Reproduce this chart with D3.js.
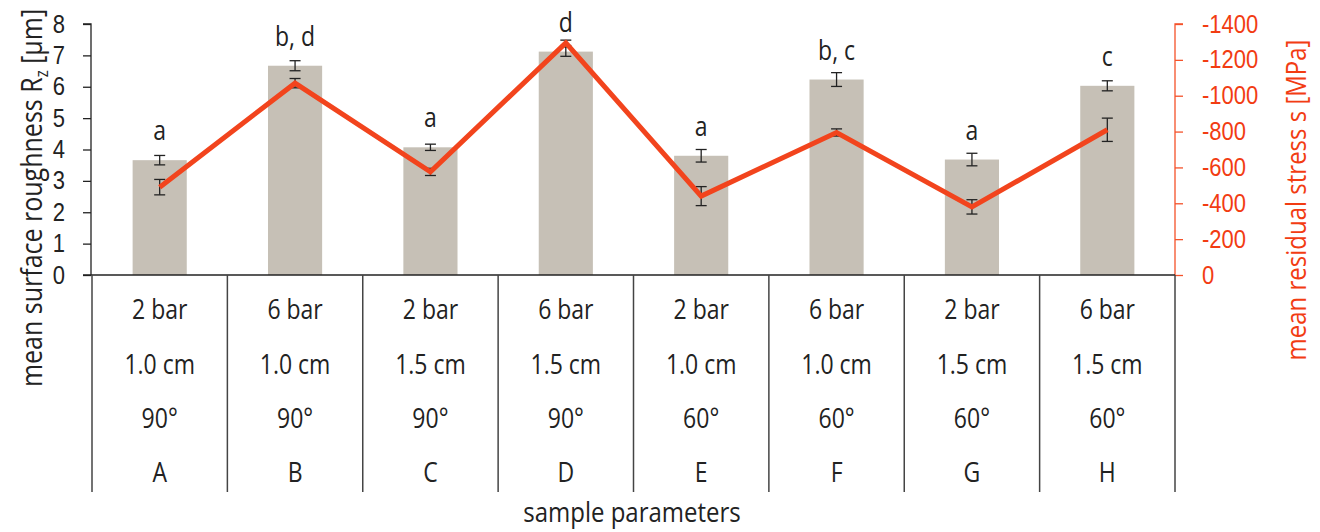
<!DOCTYPE html>
<html>
<head>
<meta charset="utf-8">
<script src="https://cdn.jsdelivr.net/npm/d3@7"></script>
<style>
  html, body { margin: 0; padding: 0; background: #fff; }
  svg { display: block; font-family: "Open Sans", sans-serif; }
</style>
</head>
<body>
<svg id="chart" width="1320" height="532"></svg>
<script>
// ---- data ----
const categories = ["A", "B", "C", "D", "E", "F", "G", "H"];
const pressure = ["2 bar", "6 bar", "2 bar", "6 bar", "2 bar", "6 bar", "2 bar", "6 bar"];
const distance = ["1.0 cm", "1.0 cm", "1.5 cm", "1.5 cm", "1.0 cm", "1.0 cm", "1.5 cm", "1.5 cm"];
const angle = ["90°", "90°", "90°", "90°", "60°", "60°", "60°", "60°"];
const roughness = [3.66, 6.67, 4.07, 7.12, 3.80, 6.23, 3.68, 6.03];
const roughnessErr = [0.15, 0.16, 0.10, 0.15, 0.20, 0.22, 0.20, 0.16];
const stress = [-490, -1070, -575, -1295, -440, -795, -380, -810];
const stressErr = [43, 26, 20, 15, 53, 20, 40, 65];
const groupLabels = ["a", "b, d", "a", "d", "a", "b, c", "a", "c"];
const leftTicks = [0, 1, 2, 3, 4, 5, 6, 7, 8];
const rightTicks = [0, -200, -400, -600, -800, -1000, -1200, -1400];

// ---- layout ----
const SY = 1.15;               // vertical stretch of glyphs (condensed look)
const plotLeft = 92, plotRight = 1175, plotTop = 24, plotBottom = 275;
const tableBottom = 492;
const rowBaselines = [319, 374, 428, 482];
const barColor = "#c6c0b6";
const lineColor = "#f2441d";
const axisRed = "#f4522a";
const ink = "#222";

const svg = d3.select("#chart");

const x = d3.scaleBand().domain(categories).range([plotLeft, plotRight]).padding(0);
const y = d3.scaleLinear().domain([0, 8]).range([plotBottom, plotTop]);
const y2 = d3.scaleLinear().domain([0, -1400]).range([plotBottom, plotTop]);
const barW = x.bandwidth() * 0.4;
const cx = d => x(d) + x.bandwidth() / 2;

function stretchedText(sel, tx, ty, str, size, anchor, color, rotate) {
  return sel.append("text")
    .attr("transform", `translate(${tx},${ty})` + (rotate ? ` rotate(${rotate})` : "") + ` scale(1,${SY})`)
    .attr("text-anchor", anchor)
    .attr("font-size", size)
    .attr("fill", color)
    .text(str);
}

// ---- bars ----
svg.append("g").selectAll("rect").data(categories).join("rect")
  .attr("x", (d) => cx(d) - barW / 2)
  .attr("y", (d, i) => y(roughness[i]))
  .attr("width", barW)
  .attr("height", (d, i) => y(0) - y(roughness[i]))
  .attr("fill", barColor);

// ---- error bars ----
function errorBars(vals, errs, scale) {
  const g = svg.append("g").attr("stroke", ink).attr("stroke-width", 1.3).attr("fill", "none");
  categories.forEach((c, i) => {
    const xc = cx(c);
    const y1 = scale(vals[i] + errs[i] * Math.sign(vals[i] || 1));
    const y0 = scale(vals[i] - errs[i] * Math.sign(vals[i] || 1));
    g.append("line").attr("x1", xc).attr("x2", xc).attr("y1", y0).attr("y2", y1);
    g.append("line").attr("x1", xc - 5.5).attr("x2", xc + 5.5).attr("y1", y0).attr("y2", y0);
    g.append("line").attr("x1", xc - 5.5).attr("x2", xc + 5.5).attr("y1", y1).attr("y2", y1);
  });
}
errorBars(roughness, roughnessErr, y);
errorBars(stress, stressErr, y2);

// ---- stress line ----
svg.append("path")
  .datum(categories)
  .attr("fill", "none")
  .attr("stroke", lineColor)
  .attr("stroke-width", 5)
  .attr("stroke-linejoin", "miter")
  .attr("d", d3.line().x(d => cx(d)).y((d, i) => y2(stress[i])));

// ---- group letters ----
const lg = svg.append("g");
categories.forEach((c, i) => {
  stretchedText(lg, cx(c), y(roughness[i]) - 20, groupLabels[i], 23, "middle", ink);
});

// ---- left axis ----
const leftAxis = svg.append("g").attr("transform", `translate(${plotLeft - 1},0)`)
  .call(d3.axisLeft(y).tickValues(leftTicks).tickSize(8).tickFormat(d3.format("d")));
leftAxis.select(".domain").attr("stroke", ink).attr("stroke-width", 1.3).attr("d", `M-8,${plotTop}H0V${plotBottom}`);
leftAxis.selectAll(".tick line").attr("stroke", ink).attr("stroke-width", 1.3);
leftAxis.selectAll(".tick text").remove();
leftTicks.forEach(t => {
  stretchedText(leftAxis, -26, y(t) + 8.5, String(t), 22, "end", ink);
});

// ---- right axis ----
const rightAxis = svg.append("g").attr("transform", `translate(${plotRight},0)`)
  .call(d3.axisRight(y2).tickValues(rightTicks).tickSize(8).tickFormat(d => String(d)));
rightAxis.select(".domain").attr("stroke", axisRed).attr("stroke-width", 1.3).attr("d", `M8,${plotTop}H0V${plotBottom}`);
rightAxis.selectAll(".tick line").attr("stroke", axisRed).attr("stroke-width", 1.3);
rightAxis.selectAll(".tick text").remove();
rightTicks.forEach(t => {
  stretchedText(rightAxis, 27, y2(t) + 8.5, String(t), 22, "start", "#f23c12");
});

// ---- zero line & table ----
svg.append("line").attr("x1", plotLeft - 9).attr("x2", plotRight).attr("y1", plotBottom).attr("y2", plotBottom)
  .attr("stroke", ink).attr("stroke-width", 1.3);
const tb = svg.append("g").attr("stroke", "#444").attr("stroke-width", 1.5);
const bounds = categories.map(c => x(c)).concat([x(categories[categories.length - 1]) + x.bandwidth()]);
bounds.forEach(b => {
  tb.append("line").attr("x1", b).attr("x2", b).attr("y1", plotBottom).attr("y2", tableBottom);
});
const rows = [pressure, distance, angle, categories];
const tt = svg.append("g");
rows.forEach((row, r) => {
  categories.forEach((c, i) => {
    stretchedText(tt, cx(c), rowBaselines[r], row[i], 23, "middle", ink);
  });
});

// ---- axis titles ----
stretchedText(svg, 632, 522, "sample parameters", 24, "middle", ink);

const lt = svg.append("text")
  .attr("transform", `translate(42,198) rotate(-90) scale(1,${SY})`)
  .attr("text-anchor", "middle").attr("font-size", 25).attr("fill", ink);
lt.append("tspan").text("mean surface roughness R");
lt.append("tspan").attr("font-size", 15).attr("dy", 5).text("z");
lt.append("tspan").attr("dy", -5).text(" [µm]");

stretchedText(svg, 1306, 200, "mean residual stress s [MPa]", 24, "middle", "#f23c12", -90);
</script>
</body>
</html>
